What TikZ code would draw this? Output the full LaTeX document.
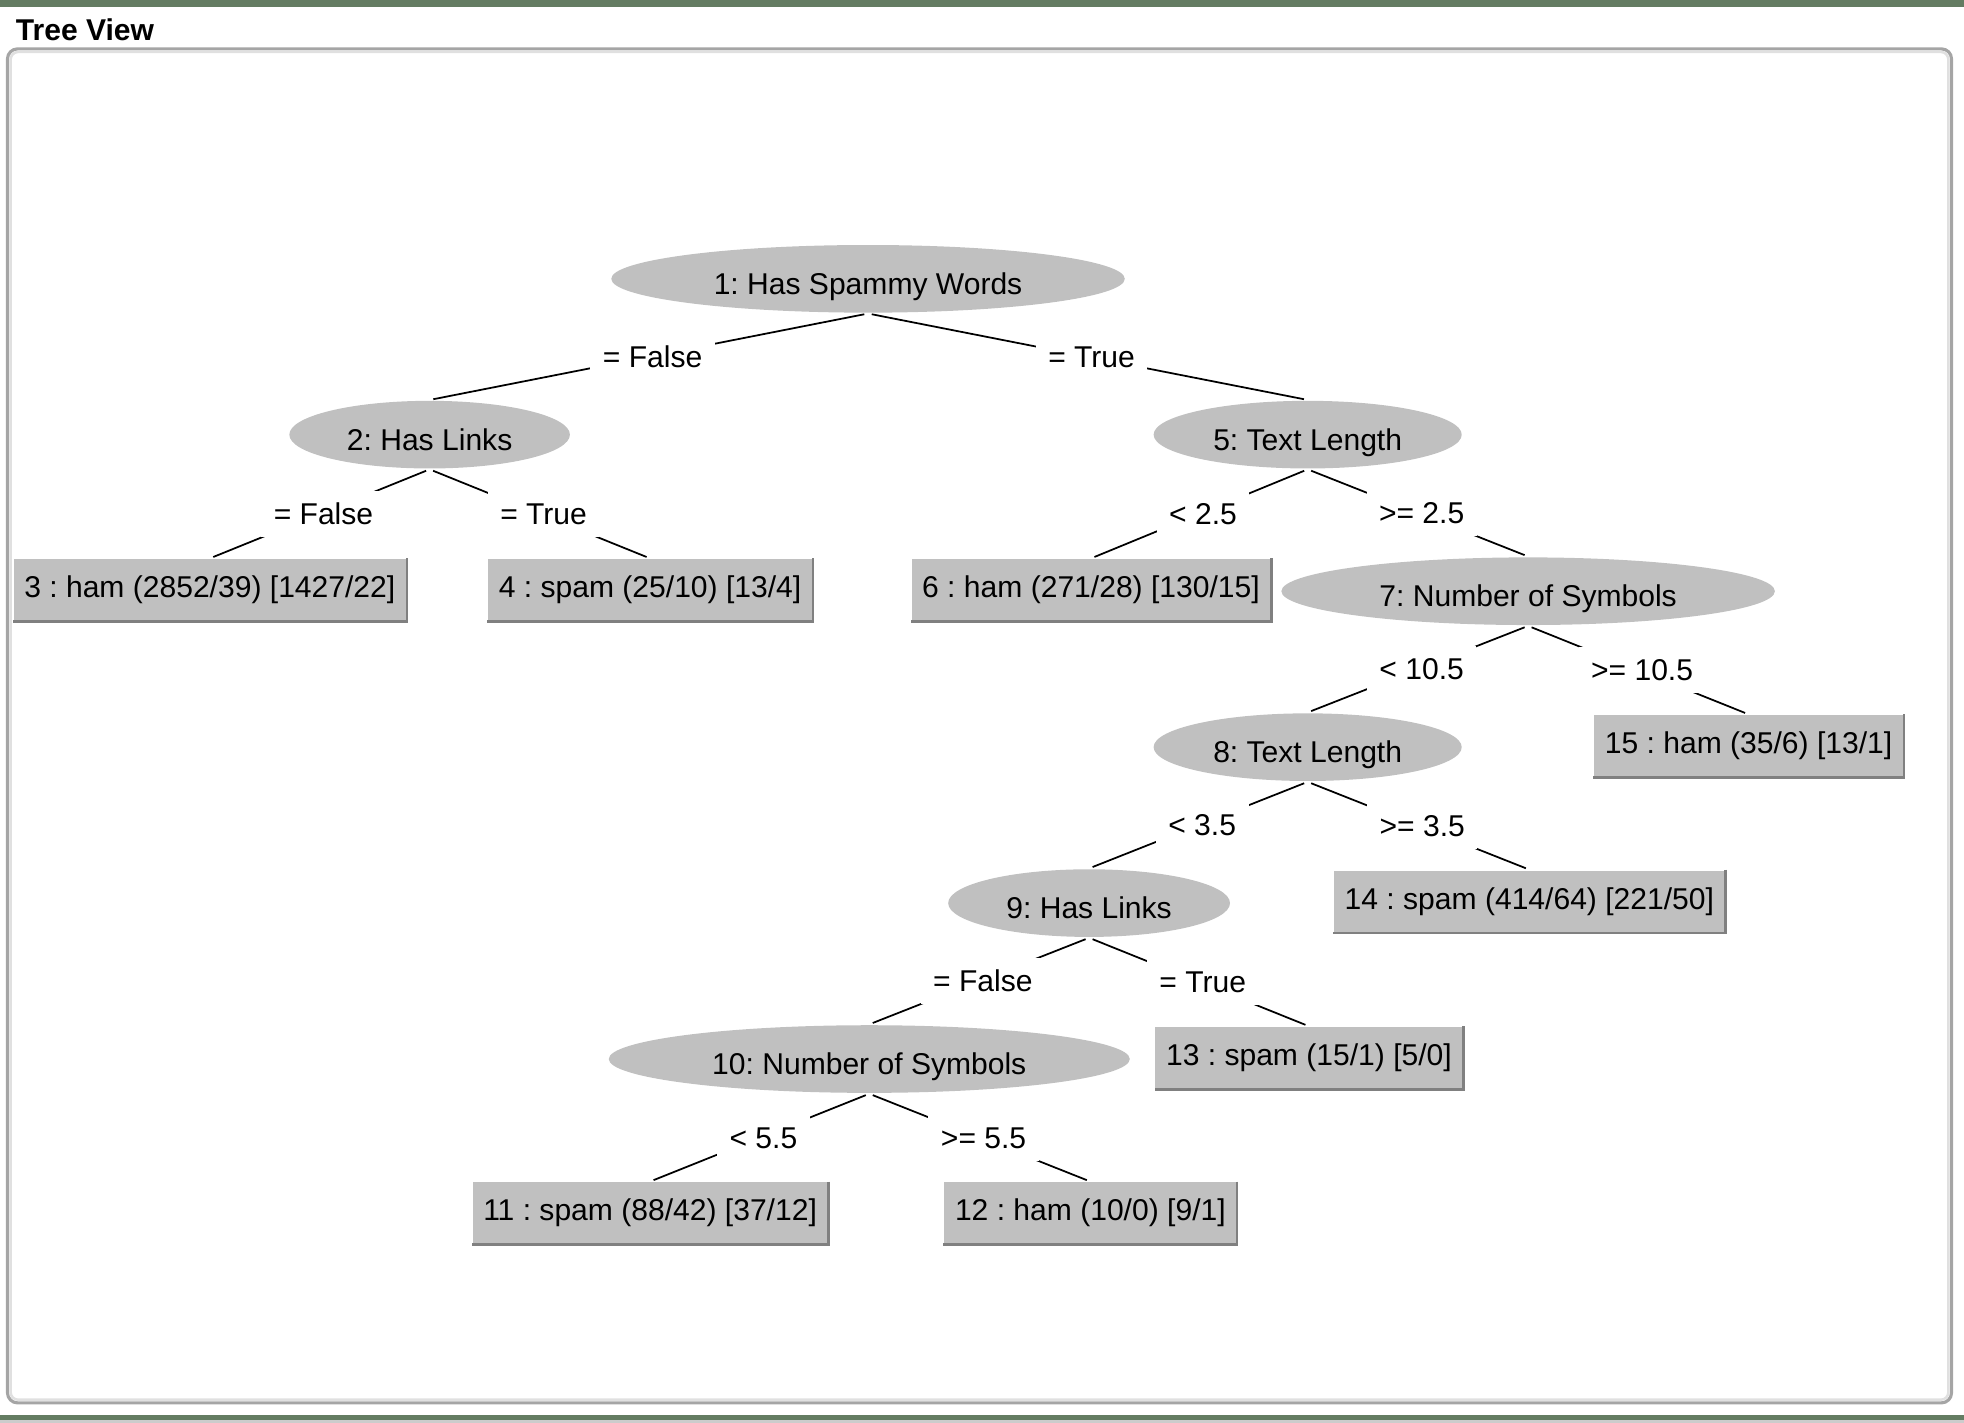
\documentclass[tikz,border=0pt]{standalone}
\usepackage{fontspec}
\setmainfont{Liberation Sans}
\usetikzlibrary{shapes.geometric}
\definecolor{nodegray}{RGB}{192,192,192}
\definecolor{rimgray}{RGB}{128,128,128}
\definecolor{bargreen}{RGB}{100,124,98}
\definecolor{framegray}{RGB}{165,165,165}
\frenchspacing

\begin{document}
\begin{tikzpicture}[x=1pt, y=-1pt, line width=1.4pt, font=\fontsize{24}{28}\selectfont,
    split/.style={ellipse, fill=nodegray, minimum height=54pt, inner sep=0pt, text height=25pt, text depth=0pt},
    leafbox/.style={rectangle, fill=nodegray, minimum height=49pt, inner xsep=8.5pt, inner ysep=0pt},
    branch/.style={fill=white, inner xsep=10pt, inner ysep=10pt, text height=17pt, text depth=0pt, xshift=3pt},
    link/.style={shorten <=3pt, shorten >=3pt}];
    \useasboundingbox (0,0) rectangle (1568,1136);
    \fill[bargreen] (0,0) rectangle (1568,5.5);
    \fill[bargreen] (0,1130) rectangle (1568,1134);
    \fill[black!20] (0,1134) rectangle (1568,1136);

    \node[anchor=base west, inner sep=0pt, font=\fontsize{24}{28}\selectfont\bfseries] (title) at (12,32) {Tree View};
    \draw[framegray, line width=2.5pt, rounded corners=8pt] (6,39) rectangle (1558,1120);
    \draw[black!12, line width=2pt, rounded corners=6pt] (8.5,41.5) rectangle (1555.5,1117.5);

    % inner nodes
    \node[split, minimum width=410pt] (n1) at (693,222.6) {1: Has Spammy Words};
    \node[split, minimum width=224pt] (n2) at (343,347) {2: Has Links};
    \node[split, minimum width=246pt] (n5) at (1044,347) {5: Text Length};
    \node[split, minimum width=394pt] (n7) at (1220,472) {7: Number of Symbols};
    \node[split, minimum width=246pt] (n8) at (1044,596.5) {8: Text Length};
    \node[split, minimum width=225pt] (n9) at (869.5,721) {9: Has Links};
    \node[split, minimum width=416pt] (n10) at (694,845.5) {10: Number of Symbols};

    % leaves
    \node[leafbox] (n3) at (167.5,471) {3 : ham (2852/39) [1427/22]};
    \node[leafbox] (n4) at (519,471) {4 : spam (25/10) [13/4]};
    \node[leafbox] (n6) at (871,471) {6 : ham (271/28) [130/15]};
    \node[leafbox] (n15) at (1396,595.5) {15 : ham (35/6) [13/1]};
    \node[leafbox] (n14) at (1221,719.5) {14 : spam (414/64) [221/50]};
    \node[leafbox] (n13) at (1045,844.5) {13 : spam (15/1) [5/0]};
    \node[leafbox] (n11) at (519,968.5) {11 : spam (88/42) [37/12]};
    \node[leafbox] (n12) at (870.5,968.5) {12 : ham (10/0) [9/1]};
    \foreach \n in {n3,n4,n6,n15,n14,n13,n11,n12}
        \draw[rimgray, line width=2pt] (\n.north east) -- (\n.south east) -- (\n.south west);

    % branches
    \draw[link] (n1.south) -- node[branch] {= False} (n2.north);
    \draw[link] (n1.south) -- node[branch] {= True} (n5.north);
    \draw[link] (n2.south) -- node[branch] {= False} (n3.north);
    \draw[link] (n2.south) -- node[branch] {= True} (n4.north);
    \draw[link] (n5.south) -- node[branch] {< 2.5} (n6.north);
    \draw[link] (n5.south) -- node[branch] {>= 2.5} (n7.north);
    \draw[link] (n7.south) -- node[branch] {< 10.5} (n8.north);
    \draw[link] (n7.south) -- node[branch] {>= 10.5} (n15.north);
    \draw[link] (n8.south) -- node[branch] {< 3.5} (n9.north);
    \draw[link] (n8.south) -- node[branch] {>= 3.5} (n14.north);
    \draw[link] (n9.south) -- node[branch] {= False} (n10.north);
    \draw[link] (n9.south) -- node[branch] {= True} (n13.north);
    \draw[link] (n10.south) -- node[branch] {< 5.5} (n11.north);
    \draw[link] (n10.south) -- node[branch] {>= 5.5} (n12.north);
\end{tikzpicture}
\end{document}
